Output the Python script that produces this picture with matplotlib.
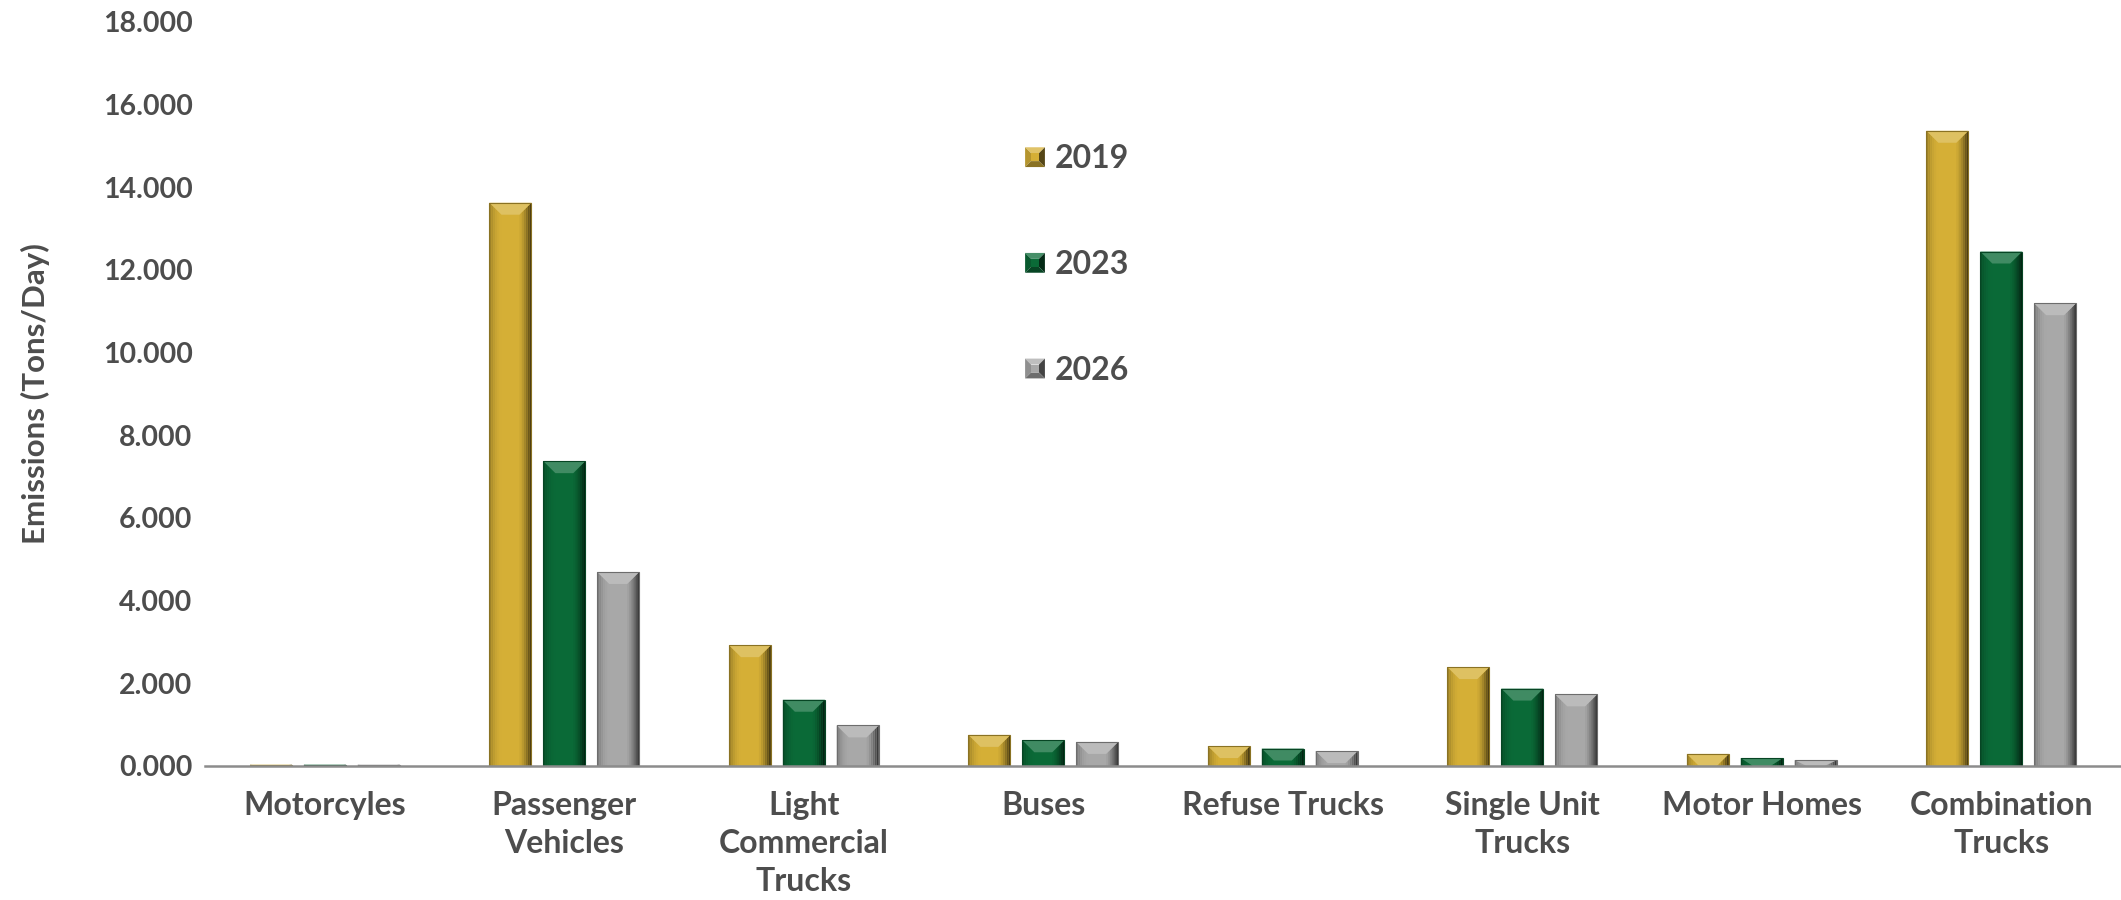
import numpy as np
import matplotlib
matplotlib.use('Agg')
import matplotlib.pyplot as plt
from matplotlib.patches import Polygon, Patch
from matplotlib.legend_handler import HandlerBase
from matplotlib.colors import to_rgb

categories = ['Motorcyles', 'Passenger\nVehicles', 'Light\nCommercial\nTrucks', 'Buses',
              'Refuse Trucks', 'Single Unit\nTrucks', 'Motor Homes', 'Combination\nTrucks']
years = ['2019', '2023', '2026']
em_2019 = [0.03, 13.62, 2.92, 0.75, 0.48, 2.39, 0.29, 15.36]
em_2023 = [0.03, 7.37, 1.60, 0.62, 0.42, 1.87, 0.19, 12.44]
em_2026 = [0.03, 4.69, 0.98, 0.58, 0.36, 1.73, 0.14, 11.19]
yticks = np.arange(0, 18.1, 2)

colors = ['#D5AF36', '#0A6A37', '#A8A8A8']
text_color = '#4D4D4D'

plt.rcParams['font.family'] = ['Lato', 'DejaVu Sans']
plt.rcParams['font.weight'] = 'bold'


def shade(c, f):
    r = np.array(to_rgb(c))
    if f >= 0:
        return tuple(r + (1 - r) * f)
    return tuple(r * (1 + f))


def bevel_bar(ax, x0, w, h, color, bx, by, n=6):
    # one bar with an "angle" bevel look (light top, dark right edge)
    x1 = x0 + w
    if h <= 0:
        return
    by = min(by, h)
    ax.add_patch(Polygon([(x0, 0), (x1, 0), (x1, h), (x0, h)], closed=True,
                         facecolor=color, edgecolor='none', zorder=3))
    edges = np.linspace(0, bx, n + 1)
    for i in range(n):
        # right band, darker toward the edge
        f = -0.65 * (1 - i / n) ** 1.5
        xa, xb = x1 - edges[i + 1], x1 - edges[i]
        ya = h - by * edges[i + 1] / bx
        yb = h - by * edges[i] / bx
        ax.add_patch(Polygon([(xa, 0), (xb, 0), (xb, yb), (xa, ya)], closed=True,
                             facecolor=shade(color, f), edgecolor='none', zorder=3))
        # left band, slight shade at the edge
        f = -0.25 * (1 - i / n) ** 2
        xa, xb = x0 + edges[i], x0 + edges[i + 1]
        ya = h - by * edges[i] / bx
        yb = h - by * edges[i + 1] / bx
        ax.add_patch(Polygon([(xa, 0), (xb, 0), (xb, yb), (xa, ya)], closed=True,
                             facecolor=shade(color, f), edgecolor='none', zorder=3))
    ax.add_patch(Polygon([(x0, h), (x1, h), (x1 - bx, h - by), (x0 + bx, h - by)], closed=True,
                         facecolor=shade(color, 0.22), edgecolor='none', zorder=3))
    ax.add_patch(Polygon([(x0, 0), (x1, 0), (x1, h), (x0, h)], closed=True,
                         facecolor='none', edgecolor=shade(color, -0.35), linewidth=0.8, zorder=4))


class BevelHandler(HandlerBase):
    def create_artists(self, legend, orig_handle, xdescent, ydescent,
                       width, height, fontsize, trans):
        c = orig_handle.get_facecolor()
        s = min(width, height)
        x0, y0 = -xdescent, -ydescent + (height - s) / 2
        x1, y1 = x0 + s, y0 + s
        b = s * 0.3
        ix0, iy0, ix1, iy1 = x0 + b, y0 + b, x1 - b, y1 - b
        faces = [
            ([(x0, y1), (x1, y1), (ix1, iy1), (ix0, iy1)], 0.25),
            ([(x0, y0), (x0, y1), (ix0, iy1), (ix0, iy0)], -0.15),
            ([(x1, y0), (x1, y1), (ix1, iy1), (ix1, iy0)], -0.6),
            ([(x0, y0), (x1, y0), (ix1, iy0), (ix0, iy0)], -0.35),
            ([(ix0, iy0), (ix1, iy0), (ix1, iy1), (ix0, iy1)], 0.0),
        ]
        arts = []
        for pts, f in faces:
            p = Polygon(pts, closed=True, facecolor=shade(c, f), edgecolor='none', transform=trans)
            arts.append(p)
        return arts


fig = plt.figure(figsize=(21.21, 9), dpi=100)
ax = fig.add_axes([0.0967, 0.149, 0.9033, 0.827])

x = np.arange(len(categories))
bar_w = 0.175
step = 0.225
series = [em_2019, em_2023, em_2026]

ax.set_xlim(-0.5, len(categories) - 0.5)
ax.set_ylim(0, 18)

# bevel size in pixels -> data units
ax_w_px = fig.get_figwidth() * fig.dpi * 0.9033
ax_h_px = fig.get_figheight() * fig.dpi * 0.827
bx = 12 / (ax_w_px / len(categories))
by = 12 / (ax_h_px / 18)

for k, vals in enumerate(series):
    for i, v in enumerate(vals):
        left = x[i] + (k - 1) * step - bar_w / 2
        bevel_bar(ax, left, bar_w, v, colors[k], bx, by)

for s in ['top', 'right', 'left']:
    ax.spines[s].set_visible(False)
ax.spines['bottom'].set_color('#8C8C8C')
ax.spines['bottom'].set_linewidth(1.8)
ax.spines['bottom'].set_zorder(5)

ax.set_yticks(yticks)
ax.set_yticklabels(['{:.3f}'.format(t) for t in yticks])
ax.set_xticks(x)
ax.set_xticklabels(categories, linespacing=1.38)
ax.tick_params(axis='y', length=0, pad=9, labelsize=20.5, labelcolor=text_color)
ax.tick_params(axis='x', length=0, pad=18, labelsize=23, labelcolor=text_color)

ax.set_ylabel('Emissions (Tons/Day)', fontsize=22.5, color=text_color, fontweight='bold')
ax.yaxis.set_label_coords(-0.081, 0.5)

handles = [Patch(facecolor=c) for c in colors]
leg = ax.legend(handles, years, loc='upper left', bbox_to_anchor=(0.428, 0.835),
                frameon=False, borderpad=0, borderaxespad=0,
                prop={'family': ['Lato', 'DejaVu Sans'], 'weight': 'bold', 'size': 23},
                labelspacing=2.4, handlelength=0.62, handleheight=0.62, handletextpad=0.3,
                handler_map={Patch: BevelHandler()})
for t in leg.get_texts():
    t.set_color(text_color)

fig.savefig('out.png', dpi=100)
